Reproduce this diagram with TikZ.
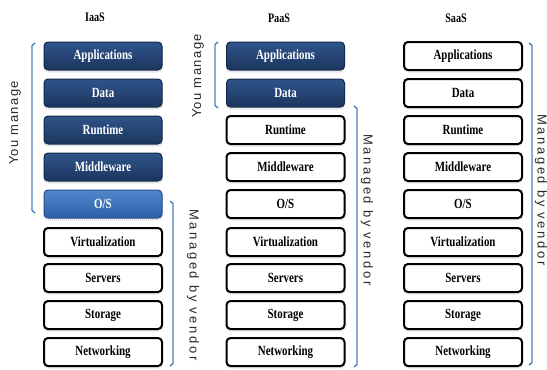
\documentclass[tikz,border=0pt]{standalone}
\usepackage{fontspec}
\usetikzlibrary{calc}
\newfontfamily\boxfont[FakeStretch=0.78]{Liberation Serif}
\newfontfamily\youfont[LetterSpace=11]{Liberation Sans}
\newfontfamily\vendorfont[LetterSpace=20]{Liberation Sans}
\definecolor{navytop}{HTML}{30548A}
\definecolor{navybot}{HTML}{1B355E}
\definecolor{navyline}{HTML}{132A4C}
\definecolor{ostop}{HTML}{5088CC}
\definecolor{osbot}{HTML}{2C5EA6}
\definecolor{osline}{HTML}{284F8C}
\definecolor{bracketblue}{HTML}{4F7FBD}
\definecolor{sidetext}{HTML}{2A2A2A}
\tikzset{
  layer/.style={rounded corners=4pt, minimum width=118pt, minimum height=28pt,
    inner sep=0pt, font=\boxfont\bfseries\fontsize{14pt}{15pt}\selectfont,
    preaction={draw=gray!50, densely dotted, line width=1pt,
      transform canvas={yshift=-1.8pt}}},
  darklayer/.style={layer, draw=navyline, line width=1pt,
    top color=navytop, bottom color=navybot, text=white},
  oslayer/.style={layer, draw=osline, line width=1pt,
    top color=ostop, bottom color=osbot, text=white},
  plainlayer/.style={layer, draw=black, line width=2pt, fill=white, text=black},
  coltitle/.style={font=\boxfont\bfseries\fontsize{13pt}{14pt}\selectfont},
  bracket/.style={draw=bracketblue, line width=1.4pt, line join=round},
  youlabel/.style={rotate=90, text=sidetext, font=\youfont\fontsize{13pt}{14pt}\selectfont},
  vendorlabel/.style={rotate=-90, text=sidetext, font=\vendorfont\fontsize{13pt}{14pt}\selectfont}
}
\begin{document}
\begin{tikzpicture}[x=1pt, y=-1pt]
\useasboundingbox (0,0) rectangle (547,370);

% column titles
\node[coltitle] (tI) at (95,17) {IaaS};
\node[coltitle] (tP) at (279,18) {PaaS};
\node[coltitle] (tS) at (456,18) {SaaS};

% IaaS stack
\node[darklayer]  (i1) at (103,56)  {Applications};
\node[darklayer]  (i2) at (103,93)  {Data};
\node[darklayer]  (i3) at (103,130) {Runtime};
\node[darklayer]  (i4) at (103,167) {Middleware};
\node[oslayer]    (i5) at (103,204) {O/S};
\node[plainlayer] (i6) at (103,242) {Virtualization};
\node[plainlayer] (i7) at (103,278) {Servers};
\node[plainlayer] (i8) at (103,315) {Storage};
\node[plainlayer] (i9) at (103,352) {Networking};

% PaaS stack
\node[darklayer]  (p1) at (285.5,56)  {Applications};
\node[darklayer]  (p2) at (285.5,93)  {Data};
\node[plainlayer] (p3) at (285.5,130) {Runtime};
\node[plainlayer] (p4) at (285.5,167) {Middleware};
\node[plainlayer] (p5) at (285.5,204) {O/S};
\node[plainlayer] (p6) at (285.5,242) {Virtualization};
\node[plainlayer] (p7) at (285.5,278) {Servers};
\node[plainlayer] (p8) at (285.5,315) {Storage};
\node[plainlayer] (p9) at (285.5,352) {Networking};

% SaaS stack
\node[plainlayer] (s1) at (463,56)  {Applications};
\node[plainlayer] (s2) at (463,93)  {Data};
\node[plainlayer] (s3) at (463,130) {Runtime};
\node[plainlayer] (s4) at (463,167) {Middleware};
\node[plainlayer] (s5) at (463,204) {O/S};
\node[plainlayer] (s6) at (463,242) {Virtualization};
\node[plainlayer] (s7) at (463,278) {Servers};
\node[plainlayer] (s8) at (463,315) {Storage};
\node[plainlayer] (s9) at (463,352) {Networking};

% bracket ends
\coordinate (iyT) at (32,43);   \coordinate (iyB) at (32,213);
\coordinate (ivT) at (173,201); \coordinate (ivB) at (173,366);
\coordinate (pyT) at (215,42);  \coordinate (pyB) at (215,108);
\coordinate (pvT) at (357,106); \coordinate (pvB) at (357,367);
\coordinate (svT) at (532,43);  \coordinate (svB) at (532,365);

% left brackets open towards the stack on their right
\draw[bracket] ($(iyT)+(3,0)$) -- ($(iyT)+(0,2.5)$) -- ($(iyB)+(0,-2.5)$) -- ($(iyB)+(3,0)$);
\draw[bracket] ($(pyT)+(3,0)$) -- ($(pyT)+(0,2.5)$) -- ($(pyB)+(0,-2.5)$) -- ($(pyB)+(3,0)$);
% right brackets open towards the stack on their left
\draw[bracket] ($(ivT)+(-3,0)$) -- ($(ivT)+(0,2.5)$) -- ($(ivB)+(0,-2.5)$) -- ($(ivB)+(-3,0)$);
\draw[bracket] ($(pvT)+(-3,0)$) -- ($(pvT)+(0,2.5)$) -- ($(pvB)+(0,-2.5)$) -- ($(pvB)+(-3,0)$);
\draw[bracket] ($(svT)+(-3,0)$) -- ($(svT)+(0,2.5)$) -- ($(svB)+(0,-2.5)$) -- ($(svB)+(-3,0)$);

% bracket labels
\node[youlabel]    (iyL) at (15,123)  {You manage};
\node[vendorlabel] (ivL) at (193,285) {Managed by vendor};
\node[youlabel]    (pyL) at (198,76)  {You manage};
\node[vendorlabel] (pvL) at (367,210) {Managed by vendor};
\node[vendorlabel] (svL) at (541,190) {Managed by vendor};
\end{tikzpicture}
\end{document}
